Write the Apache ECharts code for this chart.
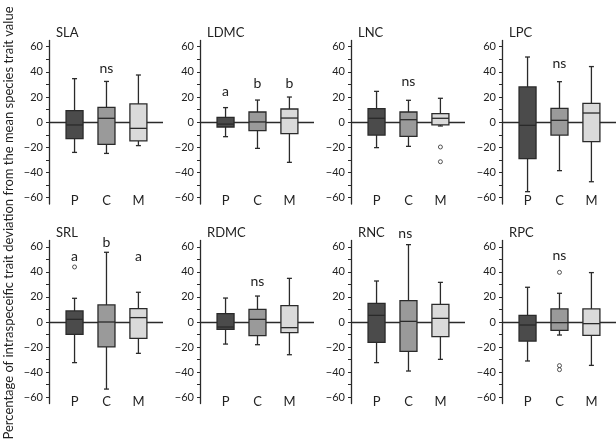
<!DOCTYPE html>
<html><head><meta charset="utf-8">
<script src="https://cdn.jsdelivr.net/npm/echarts@6/dist/echarts.min.js"></script>
<style>html,body{margin:0;padding:0;background:#fff}#c{width:616px;height:448px}</style>
</head><body><div id="c"></div><script>
const traits = ['SLA','LDMC','LNC','LPC','SRL','RDMC','RNC','RPC'];
const groups = ['P','C','M'];
const yTickLabels = [-60,-40,-20,0,20,40,60];
const yTickMarks = [-60,-50,-40,-30,-20,-10,0,10,20,30,40,50,60];
const yTitle = 'Percentage of intraspeceific trait deviation from the mean species trait value';
// [min, Q1, median, Q3, max] for P, C, M
const SLA  = [[-24.0,-13.1,-2.2,9.2,34.6],[-24.8,-17.6,3.1,11.8,32.4],[-18.6,-14.9,-4.9,14.5,37.5]];
const LDMC = [[-11.5,-3.8,-1.5,3.9,11.6],[-20.8,-6.7,0.2,8.1,17.6],[-31.9,-9.1,3.3,10.5,20.0]];
const LNC  = [[-20.2,-10.2,3.1,10.8,24.5],[-19.2,-11.3,2.0,8.1,17.4],[-3.0,-2.2,3.1,6.8,19.0]];
const LPC  = [[-55.2,-29.0,-2.5,28.0,51.8],[-38.5,-10.2,1.5,11.0,32.2],[-47.3,-15.5,7.3,15.0,44.2]];
const SRL  = [[-32.4,-9.8,2.1,8.8,18.9],[-53.5,-19.9,0,13.6,55.6],[-25.0,-13.0,3.5,10.6,23.7]];
const RDMC = [[-17.6,-5.9,-4.0,6.6,19.1],[-18.1,-10.9,2.1,10.1,20.7],[-26.1,-8.5,-4.5,13.0,34.8]];
const RNC  = [[-32.4,-16.2,5.3,14.9,32.7],[-39.1,-23.4,0.5,17.0,61.7],[-29.8,-11.7,2.9,14.1,31.6]];
const RPC  = [[-31.1,-15.2,-2.4,5.3,27.7],[-10.4,-6.6,-0.5,10.4,22.9],[-34.6,-10.6,-1.3,10.4,39.4]];
// outliers: [group position (1=P,2=C,3=M), value]
const out_LNC = [[3,-19.7],[3,-31.4]];
const out_SRL = [[1,43.9]];
const out_RPC = [[2,39.6],[2,-34.8],[2,-38.0]];
// significance letters: [text, group position, height]
const sig_SLA  = [['ns',2,43]];
const sig_LDMC = [['a',1,24.3],['b',2,30.9],['b',3,30.9]];
const sig_LNC  = [['ns',2,32.2]];
const sig_LPC  = [['ns',2,46.7]];
const sig_SRL  = [['a',1,52.4],['b',2,63.6],['a',3,52.4]];
const sig_RDMC = [['ns',2,32.7]];
const sig_RNC  = [['ns',1.9,70.2]];
const sig_RPC  = [['ns',2,52.7]];

const allBoxes = [SLA,LDMC,LNC,LPC,SRL,RDMC,RNC,RPC];
const allOut = [[],[],out_LNC,[],out_SRL,[],[],out_RPC];
const allSig = [sig_SLA,sig_LDMC,sig_LNC,sig_LPC,sig_SRL,sig_RDMC,sig_RNC,sig_RPC];

const fills = ['#4b4b4b','#9a9a9a','#dadada'];
const ink = '#2a2a2a';
const FONT = 'Lato';
const colX = [49,200,351,502];
const rowTop = [40.4,240.5];
const rowH = [163.6,163];
const rowLabelMargin = [-10,-8];
const minus = v => String(v).replace('-', '\u2212');

function renderBox(params, api) {
  const x = api.value(0);
  const pMin = api.coord([x, api.value(1)]);
  const pQ1 = api.coord([x, api.value(2)]);
  const pMed = api.coord([x, api.value(3)]);
  const pQ3 = api.coord([x, api.value(4)]);
  const pMax = api.coord([x, api.value(5)]);
  const gi = api.value(6);
  const cx = pMed[0], w = 17, cap = 5;
  const ls = {stroke: ink, lineWidth: 1.3};
  return {type:'group', children:[
    {type:'line', shape:{x1:cx,y1:pMax[1],x2:cx,y2:pQ3[1]}, style:ls},
    {type:'line', shape:{x1:cx,y1:pQ1[1],x2:cx,y2:pMin[1]}, style:ls},
    {type:'line', shape:{x1:cx-cap/2,y1:pMax[1],x2:cx+cap/2,y2:pMax[1]}, style:ls},
    {type:'line', shape:{x1:cx-cap/2,y1:pMin[1],x2:cx+cap/2,y2:pMin[1]}, style:ls},
    {type:'rect', shape:{x:cx-w/2,y:pQ3[1],width:w,height:pQ1[1]-pQ3[1]}, style:{fill:fills[gi], stroke:ink, lineWidth:1.3}},
    {type:'line', shape:{x1:cx-w/2,y1:pMed[1],x2:cx+w/2,y2:pMed[1]}, style:ls}
  ]};
}

const grid = [], xAxis = [], yAxis = [], series = [], title = [];
traits.forEach((t, i) => {
  const r = Math.floor(i/4), c = i % 4;
  grid.push({left: colX[c], top: rowTop[r], width: 114, height: rowH[r], outerBoundsMode: 'none', containLabel: false});
  xAxis.push({gridIndex:i, type:'value', min:0.2, max:3.77,
    axisLine:{show:false, onZero:false}, axisTick:{show:false}, splitLine:{show:false},
    axisLabel:{customValues:[1,2,3], formatter: v => groups[Math.round(v)-1], margin: rowLabelMargin[r],
      color:'#222', fontFamily:FONT, fontSize:13}});
  yAxis.push({gridIndex:i, type:'value', min:-65, max:65,
    axisLine:{show:true, lineStyle:{color:ink, width:1.3}},
    axisTick:{show:true, customValues:yTickMarks, length:3, lineStyle:{color:ink, width:1}},
    axisLabel:{customValues:yTickLabels, formatter: minus, margin:6, color:'#222', fontFamily:FONT, fontSize:11},
    splitLine:{show:false}});
  title.push({text:t, left: colX[c]+7, top: r === 0 ? 26 : 226, padding:0,
    textStyle:{fontFamily:FONT, fontSize:13, fontWeight:'normal', color:'#222'}});
  series.push({type:'custom', xAxisIndex:i, yAxisIndex:i, z:3,
    renderItem: renderBox,
    data: allBoxes[i].map((b, g) => [g+1, b[0], b[1], b[2], b[3], b[4], g]),
    markLine:{silent:true, symbol:'none', z:1, label:{show:false}, animation:false,
      lineStyle:{color:ink, width:1.3, type:'solid'}, emphasis:{disabled:true},
      data:[{yAxis:0}]}
  });
  if (allOut[i].length) {
    series.push({type:'scatter', xAxisIndex:i, yAxisIndex:i, z:4, symbol:'circle', symbolSize:4,
      itemStyle:{color:'#fff', borderColor:ink, borderWidth:1}, data: allOut[i]});
  }
  const sig = allSig[i];
  series.push({type:'custom', xAxisIndex:i, yAxisIndex:i, z:4, clip:false,
    renderItem: (params, api) => {
      const p = api.coord([api.value(0), api.value(1)]);
      return {type:'text', x:p[0], y:p[1], style:{text: sig[params.dataIndex][0], fill:'#222',
        font: '14px ' + FONT, textAlign:'center', textVerticalAlign:'middle'}};
    },
    data: sig.map(s => [s[1], s[2]])
  });
});

const chart = echarts.init(document.getElementById('c'), null, {renderer:'canvas'});
chart.setOption({
  animation:false, backgroundColor:'#fff',
  title, grid, xAxis, yAxis, series,
  graphic:[{type:'text', x:9, y:223, rotation:Math.PI/2,
    style:{text:yTitle, font:'13px ' + FONT, fill:'#222', textAlign:'center', textVerticalAlign:'middle'}}]
});
</script></body></html>
